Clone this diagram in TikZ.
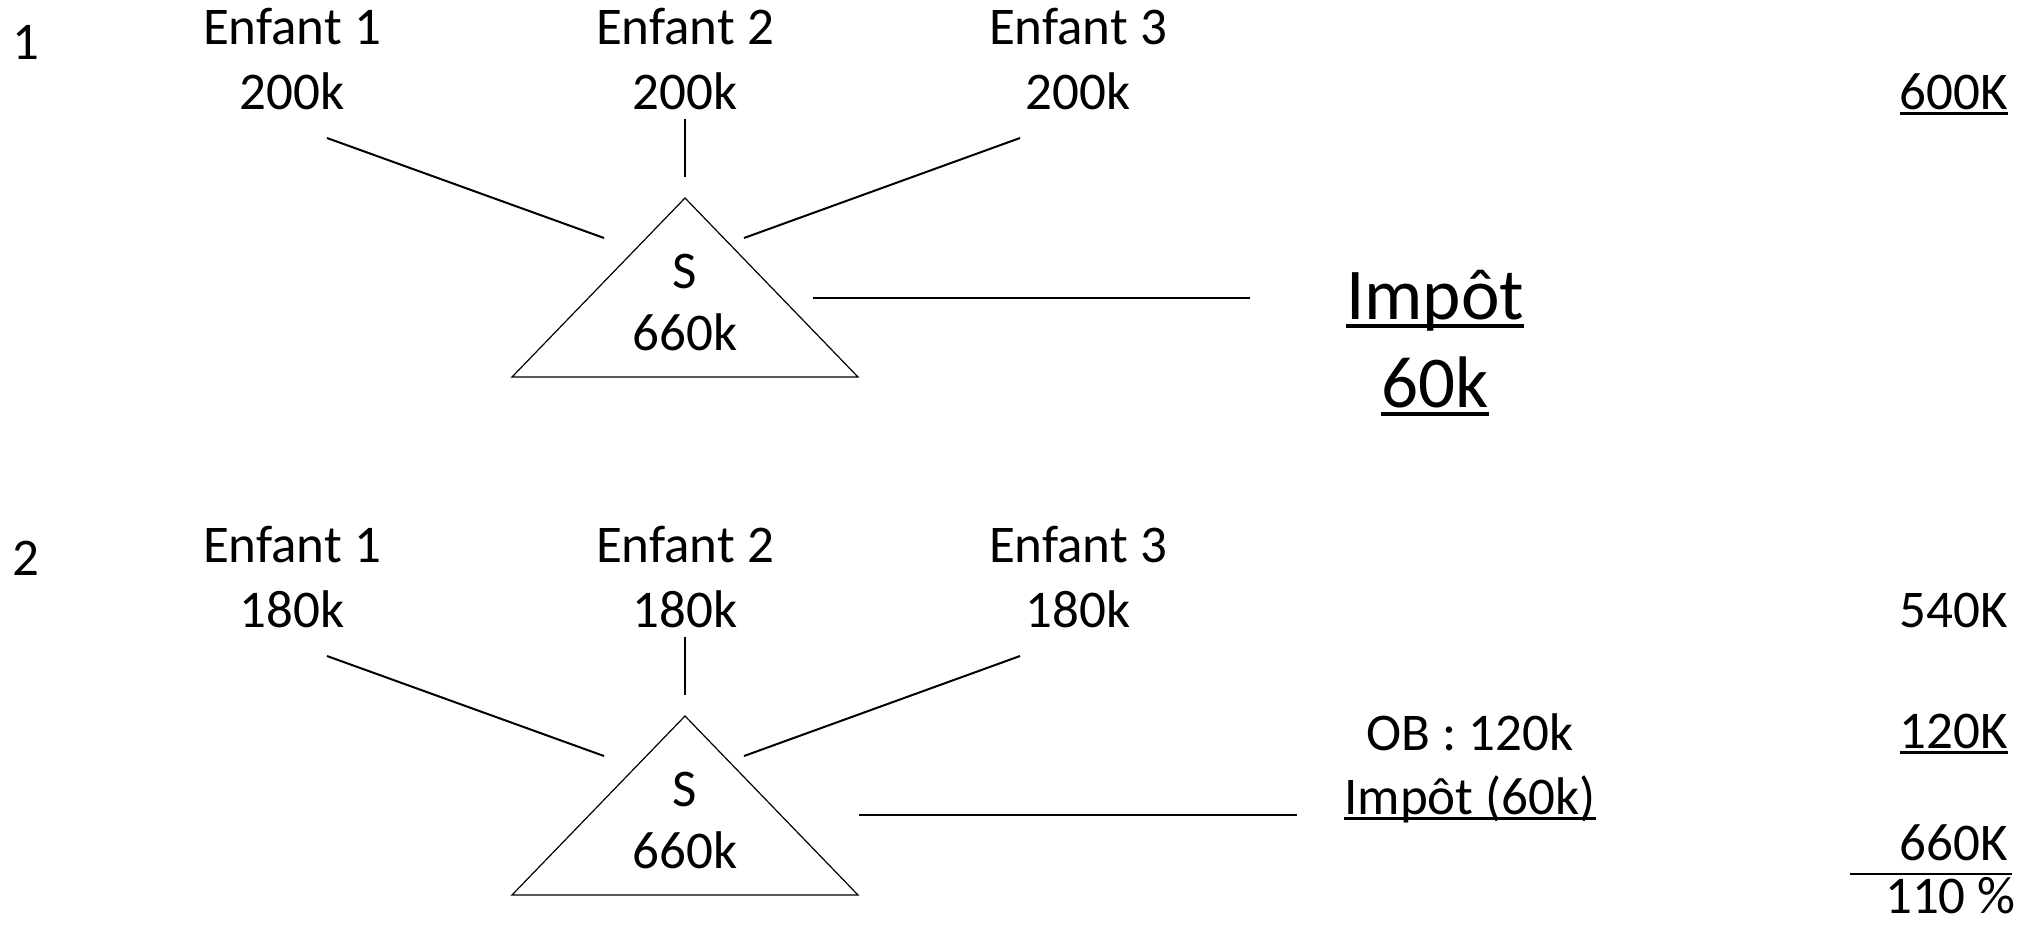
\documentclass[tikz,border=0pt]{standalone}
\usepackage{fontspec}
\setmainfont{Carlito}
% underline drawn as a rule a little below the baseline
\newcommand\ulbar[1]{\leavevmode\setbox0\hbox{#1}\rlap{\rule[-0.12em]{\wd0}{0.055em}}\box0}
\begin{document}
\begin{tikzpicture}[x=0.5pt,y=-0.5pt,
  lbl/.style={inner sep=0pt,anchor=base,font=\fontsize{26.5}{32}\selectfont},
  big/.style={inner sep=0pt,anchor=base,font=\fontsize{36.5}{44}\selectfont},
  rlbl/.style={lbl,anchor=base east},
  link/.style={line width=1pt},
  tri/.style={line width=0.6pt},
  rule/.style={line width=1pt}]
\useasboundingbox (0,0) rectangle (2029,927);

% ---------- case 1 ----------
\node[lbl] (n1) at (26,59) {1};
\node[lbl] (e1a) at (292,44) {Enfant 1};
\node[lbl] (v1a) at (292,109) {200k};
\node[lbl] (e1b) at (685,44) {Enfant 2};
\node[lbl] (v1b) at (685,109) {200k};
\node[lbl] (e1c) at (1078,44) {Enfant 3};
\node[lbl] (v1c) at (1078,109) {200k};
\coordinate (a1s) at (327,138); \coordinate (a1e) at (604,238);
\coordinate (b1s) at (685,119); \coordinate (b1e) at (685,177);
\coordinate (c1s) at (1020,138); \coordinate (c1e) at (744,238);
\draw[link] (a1s) -- (a1e);
\draw[link] (b1s) -- (b1e);
\draw[link] (c1s) -- (c1e);
\coordinate (t1top) at (685,198);
\coordinate (t1l) at (512,377);
\coordinate (t1r) at (858,377);
\draw[tri] (t1top) -- (t1l) -- (t1r) -- cycle;
\node[lbl] (s1) at (685,288) {S};
\node[lbl] (s1v) at (685,350) {660k};
\coordinate (h1s) at (813,298); \coordinate (h1e) at (1250,298);
\draw[link] (h1s) -- (h1e);
\node[big] (imp1) at (1435,319) {\ulbar{Impôt}};
\node[big] (imp1v) at (1435,407) {\ulbar{60k}};
\node[rlbl] (tot1) at (2008,109) {\ulbar{600K}};

% ---------- case 2 ----------
\node[lbl] (n2) at (26,575) {2};
\node[lbl] (e2a) at (292,562) {Enfant 1};
\node[lbl] (v2a) at (292,627) {180k};
\node[lbl] (e2b) at (685,562) {Enfant 2};
\node[lbl] (v2b) at (685,627) {180k};
\node[lbl] (e2c) at (1078,562) {Enfant 3};
\node[lbl] (v2c) at (1078,627) {180k};
\coordinate (a2s) at (327,656); \coordinate (a2e) at (604,756);
\coordinate (b2s) at (685,637); \coordinate (b2e) at (685,695);
\coordinate (c2s) at (1020,656); \coordinate (c2e) at (744,756);
\draw[link] (a2s) -- (a2e);
\draw[link] (b2s) -- (b2e);
\draw[link] (c2s) -- (c2e);
\coordinate (t2top) at (685,716);
\coordinate (t2l) at (512,895);
\coordinate (t2r) at (858,895);
\draw[tri] (t2top) -- (t2l) -- (t2r) -- cycle;
\node[lbl] (s2) at (685,806) {S};
\node[lbl] (s2v) at (685,868) {660k};
\coordinate (h2s) at (859,815); \coordinate (h2e) at (1297,815);
\draw[link] (h2s) -- (h2e);
\node[lbl] (ob) at (1470,750) {OB : 120k};
\node[lbl] (imp2) at (1470,814) {\ulbar{Impôt (60k)}};
\node[rlbl] (t540) at (2008,627) {540K};
\node[rlbl] (t120) at (2008,748) {\ulbar{120K}};
\node[rlbl] (t660) at (2008,860) {660K};
\coordinate (rs) at (1850,874); \coordinate (re) at (2012,874);
\draw[rule] (rs) -- (re);
\node[rlbl] (pct) at (2016,913) {110 \%};
\end{tikzpicture}
\end{document}
